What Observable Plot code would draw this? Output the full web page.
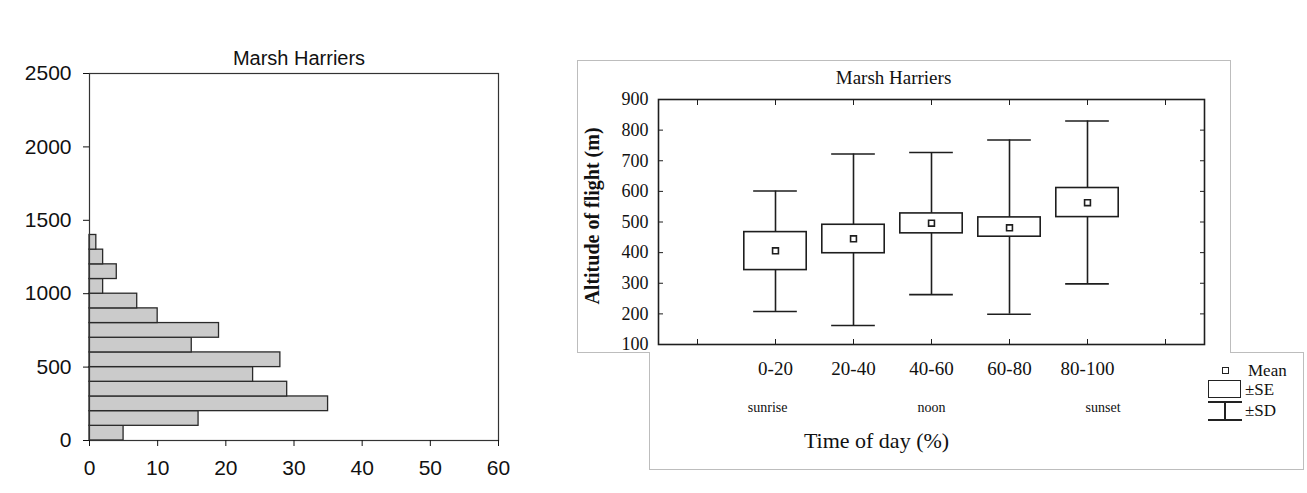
<!DOCTYPE html>
<html><head><meta charset="utf-8">
<script src="https://cdn.jsdelivr.net/npm/d3@7"></script>
<script src="https://cdn.jsdelivr.net/npm/@observablehq/plot@0.6"></script>
<style>
body{margin:0;background:#fff;}
#wrap{position:relative;width:1307px;height:493px;overflow:hidden;background:#fff;}
.abs{position:absolute;}
.line{position:absolute;background:#bdbdbd;}
.blk{position:absolute;background:#222;}
.leg{position:absolute;font-family:"Liberation Serif","Times New Roman",serif;font-size:17px;color:#111;line-height:1;}
svg{overflow:visible;}
</style></head><body>
<div id="wrap">
  <!-- right panel outline -->
  <div class="abs" style="left:649px;top:352px;width:653px;height:117px;border-left:1px solid #bdbdbd;border-right:1px solid #bdbdbd;border-bottom:1px solid #bdbdbd;"></div>
  <div class="abs" style="left:577px;top:60px;width:652px;height:292px;border-left:1px solid #bdbdbd;border-right:1px solid #bdbdbd;border-top:1px solid #bdbdbd;"></div>
  <div class="line" style="left:577px;top:352px;width:73px;height:1px;"></div>
  <div class="line" style="left:1230px;top:352px;width:73px;height:1px;"></div>
  <div id="left" class="abs" style="left:0px;top:30px;"></div>
  <div id="right" class="abs" style="left:577px;top:60px;"></div>
  <!-- legend -->
  <div class="abs" style="left:1222px;top:367px;width:5px;height:5px;border:1.5px solid #222;background:#fff;"></div>
  <div class="leg" style="left:1248px;top:362px;">Mean</div>
  <div class="abs" style="left:1208px;top:380px;width:31px;height:16px;border:1.5px solid #222;"></div>
  <div class="leg" style="left:1245px;top:381px;">±SE</div>
  <div class="blk" style="left:1208px;top:401px;width:34px;height:1.5px;"></div>
  <div class="blk" style="left:1224px;top:401px;width:1.5px;height:19px;"></div>
  <div class="blk" style="left:1208px;top:419px;width:34px;height:1.5px;"></div>
  <div class="leg" style="left:1245px;top:402px;">±SD</div>
</div>
<script>
// ---------- Left panel: histogram of flight altitude ----------
const altBinStart = [0,100,200,300,400,500,600,700,800,900,1000,1100,1200,1300];
const altBinEnd   = [100,200,300,400,500,600,700,800,900,1000,1100,1200,1300,1400];
const birdCount   = [5,16,35,29,24,28,15,19,10,7,2,4,2,1];
const countTicks  = [0,10,20,30,40,50,60];
const altTicks    = [0,500,1000,1500,2000,2500];
const leftTitle   = ["Marsh Harriers"];

// ---------- Right panel: altitude by time of day ----------
const timeBins = ["0-20","20-40","40-60","60-80","80-100"];
const meanAlt  = [406,445,496,481,563];
const seLow    = [343,398,463,452,516];
const seHigh   = [467,491,528,515,611];
const sdLow    = [208,162,263,199,298];
const sdHigh   = [601,722,727,768,830];
const phaseLabels = ["sunrise","noon","sunset"];
const phasePos    = [-0.1,2,4.2];
const yTicksR  = [100,200,300,400,500,600,700,800,900];
const xTicksR  = [-1,0,1,2,3,4,5];

const histData = altBinStart.map((a,i)=>({lo:a, hi:altBinEnd[i], n:birdCount[i]}));

const leftPlot = Plot.plot({
  width:540, height:460,
  marginLeft:89, marginRight:42, marginTop:43, marginBottom:50,
  style:{fontFamily:"'Liberation Sans', Arial, sans-serif", fontSize:"20px", color:"#111", background:"transparent", overflow:"visible"},
  x:{domain:[0,60]},
  y:{domain:[0,2500]},
  marks:[
    Plot.rectX(histData,{x:"n", y1:"lo", y2:"hi", fill:"#cbcbcb", stroke:"#2a2a2a", strokeWidth:1.3}),
    Plot.frame({stroke:"#333", strokeWidth:1.2}),
    Plot.axisX({ticks:countTicks, tickSize:6, tickPadding:14, label:null, fontSize:21, tickFormat:d=>String(d)}),
    Plot.axisY({ticks:altTicks, tickSize:6, tickPadding:12, label:null, fontSize:21, tickFormat:d=>String(d)}),
    Plot.text(leftTitle,{text:d=>d, frameAnchor:"top", lineAnchor:"middle", dy:-15, dx:5, fontSize:20})
  ]
});
document.getElementById("left").appendChild(leftPlot);

const boxData = timeBins.map((b,i)=>({i, bin:b, mean:meanAlt[i], seLo:seLow[i], seHi:seHigh[i], sdLo:sdLow[i], sdHi:sdHigh[i]}));
const phaseData = phaseLabels.map((p,k)=>({p, x:phasePos[k]}));
const halfBox = 0.4, halfCap = 0.28;
const ink = "#1e1e1e";

const rightPlot = Plot.plot({
  width:730, height:420,
  marginLeft:81, marginRight:103, marginTop:39, marginBottom:136,
  style:{fontFamily:"'Liberation Serif', 'Times New Roman', serif", fontSize:"18px", color:"#111", background:"transparent", overflow:"visible"},
  x:{domain:[-1.5,5.5]},
  y:{domain:[100,900]},
  marks:[
    Plot.ruleX(boxData,{x:"i", y1:"sdLo", y2:"sdHi", stroke:ink, strokeWidth:1.6}),
    Plot.ruleY(boxData,{y:"sdLo", x1:d=>d.i-halfCap, x2:d=>d.i+halfCap, stroke:ink, strokeWidth:1.6}),
    Plot.ruleY(boxData,{y:"sdHi", x1:d=>d.i-halfCap, x2:d=>d.i+halfCap, stroke:ink, strokeWidth:1.6}),
    Plot.rect(boxData,{x1:d=>d.i-halfBox, x2:d=>d.i+halfBox, y1:"seLo", y2:"seHi", fill:"white", stroke:ink, strokeWidth:1.6}),
    Plot.dot(boxData,{x:"i", y:"mean", symbol:"square", r:3.3, fill:"white", stroke:ink, strokeWidth:1.6}),
    Plot.frame({stroke:ink, strokeWidth:1.6}),
    Plot.axisY({anchor:"left", ticks:yTicksR, tickSize:5, dx:5, tickFormat:()=>"", label:null, stroke:ink}),
    Plot.axisY({anchor:"right", ticks:yTicksR, tickSize:5, dx:-5, tickFormat:()=>"", label:null, stroke:ink}),
    Plot.axisX({anchor:"bottom", ticks:xTicksR, tickSize:5, dy:-5, tickFormat:()=>"", label:null, stroke:ink}),
    Plot.axisX({anchor:"top", ticks:xTicksR, tickSize:5, dy:5, tickFormat:()=>"", label:null, stroke:ink}),
    Plot.axisY({anchor:"left", ticks:yTicksR, tickSize:0, tickPadding:10, label:null, fontSize:18, tickFormat:d=>String(d)}),
    Plot.text(boxData,{x:"i", text:"bin", frameAnchor:"bottom", lineAnchor:"middle", dy:24, fontSize:19}),
    Plot.text(phaseData,{x:"x", text:"p", frameAnchor:"bottom", lineAnchor:"middle", dy:63, fontSize:14}),
    Plot.text(["Time of day (%)"],{text:d=>d, frameAnchor:"bottom-left", lineAnchor:"middle", dx:218, dy:96, textAnchor:"middle", fontSize:22}),
    Plot.text(["Altitude of flight (m)"],{text:d=>d, frameAnchor:"left", lineAnchor:"middle", dx:-66, dy:-6, rotate:-90, textAnchor:"middle", fontSize:20, fontWeight:"bold"}),
    Plot.text(["Marsh Harriers"],{text:d=>d, frameAnchor:"top-left", lineAnchor:"middle", dx:235, dy:-22, textAnchor:"middle", fontSize:19})
  ]
});
document.getElementById("right").appendChild(rightPlot);
</script>
</body></html>
